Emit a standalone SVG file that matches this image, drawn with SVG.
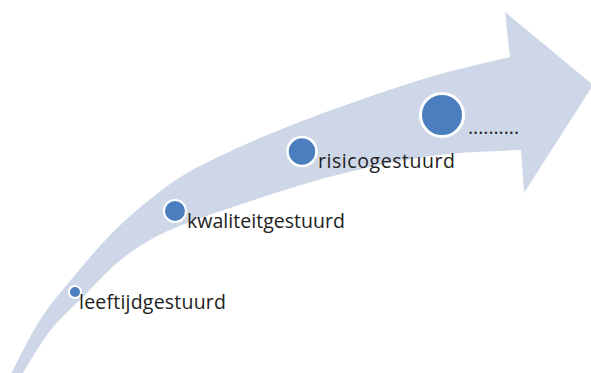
<svg xmlns="http://www.w3.org/2000/svg" width="591" height="373" viewBox="0 0 591 373">
  <style>
    .arrow { fill: #CED7E8; }
    .dot { fill: #4A7EBF; stroke: #FFFFFF; }
    .lbl { font-family: "Open Sans", "Liberation Sans", sans-serif; font-size: 19.5px; fill: #222222; }
  </style>
  <rect width="591" height="373" fill="#FFFFFF"/>
  <g id="arrow">
    <path class="arrow" d="M 10,376
      C 15,366.7 29.2,336.8 40,320
      C 50.8,303.2 62.5,290 75,275
      C 87.5,260 102,243 115,230
      C 128,217 141,206.5 153,197
      C 165,187.5 173.7,180.8 187,173
      C 200.3,165.2 218,157 233,150
      C 248,143 259.2,138.2 277,131
      C 294.8,123.8 314.5,116 340,107
      C 365.5,98 401.7,85.3 430,77
      C 458.3,68.7 496.7,60.3 510,57
      L 505,12 L 593,85 L 524,193 L 521,150
      C 510.8,150.5 480.2,151.2 460,153
      C 439.8,154.8 420.5,157.3 400,161
      C 379.5,164.7 356.2,170.2 337,175
      C 317.8,179.8 302.3,184.7 285,190
      C 267.7,195.3 249.3,201.5 233,207
      C 216.7,212.5 200.8,217.5 187,223
      C 173.2,228.5 161.7,233.3 150,240
      C 138.3,246.7 128.2,253.5 117,263
      C 105.8,272.5 94.2,285.7 83,297
      C 71.8,308.3 60.3,317.8 50,331
      C 39.7,344.2 25.8,368.5 21,376 Z"/>
  </g>
  <g id="node-leeftijdgestuurd">
    <circle class="dot" cx="75" cy="292" r="6" stroke-width="2"/>
    <text class="lbl" x="79" y="309" textLength="147">leeftijdgestuurd</text>
  </g>
  <g id="node-kwaliteitgestuurd">
    <circle class="dot" cx="175" cy="211" r="11" stroke-width="2"/>
    <text class="lbl" x="187" y="228" textLength="158">kwaliteitgestuurd</text>
  </g>
  <g id="node-risicogestuurd">
    <circle class="dot" cx="302" cy="151.5" r="14.5" stroke-width="2.5"/>
    <text class="lbl" x="318" y="168" textLength="137">risicogestuurd</text>
  </g>
  <g id="node-next">
    <circle class="dot" cx="442" cy="115" r="21.5" stroke-width="3"/>
    <text class="lbl" x="468" y="134" textLength="51">..........</text>
  </g>
</svg>
